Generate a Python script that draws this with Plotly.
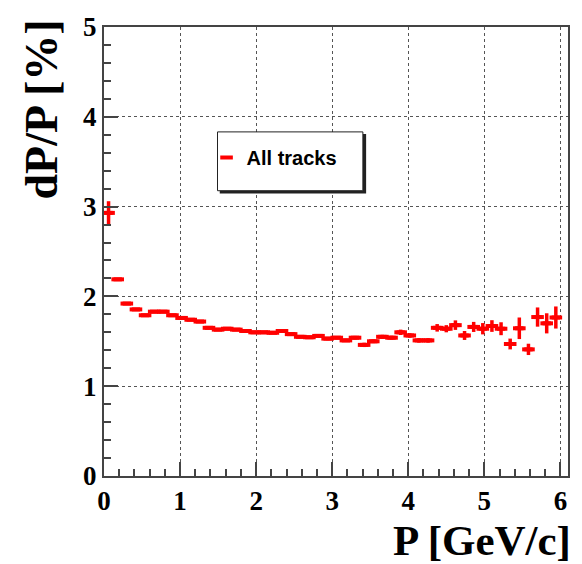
import plotly.graph_objects as go

# Momentum resolution vs momentum, 50 bins of 0.12 GeV/c from 0 to 6
p_centers = [round(0.06 + 0.12 * i, 2) for i in range(50)]
bin_half_width = [0.055] * 50

dp_over_p = [
    2.93, 2.19, 1.92, 1.855, 1.79, 1.83, 1.83, 1.79, 1.76, 1.74,
    1.72, 1.65, 1.63, 1.64, 1.63, 1.615, 1.60, 1.60, 1.595, 1.615,
    1.58, 1.55, 1.545, 1.56, 1.53, 1.54, 1.51, 1.54, 1.46, 1.50,
    1.55, 1.54, 1.60, 1.565, 1.51, 1.51, 1.65, 1.64, 1.68, 1.565,
    1.66, 1.64, 1.67, 1.64, 1.47, 1.645, 1.41, 1.77, 1.70, 1.765,
]
dp_over_p_err = [
    0.13, 0.01, 0.01, 0.01, 0.01, 0.01, 0.01, 0.01, 0.01, 0.01,
    0.01, 0.01, 0.01, 0.01, 0.012, 0.012, 0.012, 0.012, 0.012, 0.015,
    0.015, 0.015, 0.015, 0.015, 0.018, 0.018, 0.018, 0.02, 0.024, 0.02,
    0.022, 0.022, 0.03, 0.025, 0.025, 0.025, 0.042, 0.04, 0.053, 0.05,
    0.056, 0.063, 0.065, 0.072, 0.06, 0.12, 0.063, 0.107, 0.112, 0.123,
]

x_ticks = [0, 1, 2, 3, 4, 5, 6]
y_ticks = [0, 1, 2, 3, 4, 5]

RED = "#ff0000"
FRAME = "#444444"
GRID = "#555555"
SERIF = "Liberation Serif"

fig = go.Figure()
fig.add_trace(go.Scatter(
    x=p_centers,
    y=dp_over_p,
    mode="markers",
    name="All tracks",
    marker=dict(symbol="line-ew", size=9, color=RED, line=dict(color=RED, width=4)),
    error_x=dict(type="data", array=bin_half_width, color=RED, thickness=4, width=0),
    error_y=dict(type="data", array=dp_over_p_err, color=RED, thickness=3.5, width=0),
))

axis_common = dict(
    showline=True, linecolor=FRAME, linewidth=2, mirror=True,
    ticks="inside", ticklen=14, tickwidth=1.5, tickcolor=FRAME,
    showgrid=True, gridcolor=GRID, griddash="dot", gridwidth=1,
    zeroline=False,
    tickfont=dict(family=SERIF, size=27, color="black", weight="bold"),
)

fig.update_xaxes(
    range=[0, 6.1], tickvals=x_ticks, ticktext=[str(v) for v in x_ticks],
    minor=dict(dtick=0.2, tick0=0, ticks="inside", ticklen=7, tickwidth=1.5,
               tickcolor=FRAME, showgrid=False),
    **axis_common,
)
fig.update_yaxes(
    range=[0, 5], tickvals=y_ticks, ticktext=[str(v) for v in y_ticks],
    minor=dict(dtick=0.2, tick0=0, ticks="inside", ticklen=7, tickwidth=1.5,
               tickcolor=FRAME, showgrid=False),
    **axis_common,
)

# Plot-area pixel bounds, used to place the legend frame and titles
L, R, T, B = 104, 570, 18, 476
W, H = R - L, B - T

def px(x):
    return (x - L) / W

def py(y):
    return (B - y) / H

# Legend frame with a drop shadow
fig.add_shape(type="rect", xref="paper", yref="paper",
              x0=px(221), x1=px(366.5), y0=py(187), y1=py(128),
              line=dict(color="#222222", width=1.5), fillcolor="#222222", layer="above")
fig.add_shape(type="rect", xref="paper", yref="paper",
              x0=px(218), x1=px(364), y0=py(185), y1=py(125),
              line=dict(color="#222222", width=1), fillcolor="white", layer="above")

fig.update_layout(
    width=582, height=564,
    margin=dict(l=L, r=582 - R, t=T, b=564 - B),
    paper_bgcolor="white", plot_bgcolor="white",
    showlegend=True,
    legend=dict(
        x=px(207), y=py(151), xanchor="left", yanchor="middle",
        bgcolor="rgba(0,0,0,0)", borderwidth=0,
        font=dict(family="Liberation Sans", size=20, color="black", weight="bold"),
        itemwidth=30,
    ),
    annotations=[
        dict(text="P [GeV/c]", xref="paper", yref="paper", x=1.0, y=py(568),
             xanchor="right", yanchor="bottom", showarrow=False, xshift=5,
             font=dict(family=SERIF, size=43, color="black", weight="bold")),
        dict(text="dP/P [%]", xref="paper", yref="paper", x=px(41), y=py(8),
             xanchor="center", yanchor="top", textangle=-90, showarrow=False,
             font=dict(family=SERIF, size=46, color="black", weight="bold")),
    ],
)

fig.write_html("out.html")
